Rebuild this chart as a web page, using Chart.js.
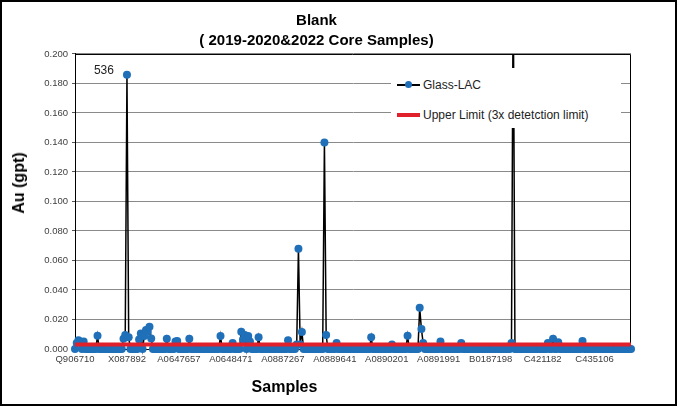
<!DOCTYPE html>
<html>
<head>
<meta charset="utf-8">
<title>Blank - Core Samples</title>
<script src="https://cdn.jsdelivr.net/npm/chart.js@4.4.1/dist/chart.umd.min.js"></script>
<style>
    html, body { margin: 0; padding: 0; background: #fff; }
    #wrap {
        position: relative; width: 677px; height: 406px;
        border: 2px solid #000; box-sizing: border-box; background: #fff;
        font-family: "Liberation Sans", Arial, sans-serif;
    }
    #chart { position: absolute; left: 0; top: 0; }
    .axis-title { position: absolute; font-weight: bold; font-size: 16px; color: #000; white-space: nowrap; }
    #yTitle { left: 16.5px; top: 181px; transform: translate(-50%, -50%) rotate(-90deg); }
    #xTitle { left: 282.5px; top: 385px; transform: translate(-50%, -50%); }
    #legendBox {
        position: absolute; left: 389px; top: 66px; width: 230px; height: 60px;
        background: #fff; font-size: 12px; color: #222;
    }
    .legend-row { position: absolute; left: 6px; height: 16px; display: flex; align-items: center; }
    .legend-key { position: relative; width: 23px; height: 16px; margin-right: 3px; }
    .key-line { position: absolute; left: 0; right: 0; top: 7px; height: 1.5px; background: #000; }
    .key-dot { position: absolute; left: 8px; top: 4px; width: 7px; height: 7px; border-radius: 50%; background: #1f70b8; }
    .key-bar { position: absolute; left: 0; right: 0; top: 6px; height: 4px; background: #e0202a; }
</style>
</head>
<body>
<div id="wrap">
    <canvas id="chart" width="673" height="402"></canvas>
    <div id="yTitle" class="axis-title">Au (gpt)</div>
    <div id="xTitle" class="axis-title">Samples</div>
    <div id="legendBox">
        <div class="legend-row" style="top: 9px;">
            <span class="legend-key"><span class="key-line"></span><span class="key-dot"></span></span>
            <span>Glass-LAC</span>
        </div>
        <div class="legend-row" style="top: 39px;">
            <span class="legend-key"><span class="key-bar"></span></span>
            <span>Upper Limit (3x detetction limit)</span>
        </div>
    </div>
</div>

<script>
// Sample IDs printed on the axis, one every labelStep samples
const sampleTicks = ['Q906710', 'X087892', 'A0647657', 'A0648471', 'A0887267', 'A0889641',
                     'A0890201', 'A0891991', 'B0187198', 'C421182', 'C435106'];
const labelStep = 30;

// Au (gpt) of the blank, one value per sample, 30 samples per row
// (the sample after B0187198 runs off the top of the scale)
const auValues = [
    0, 0.004, 0.006, 0.005, 0, 0.005, 0, 0, 0, 0, 0, 0, 0, 0.009, 0, 0, 0, 0, 0, 0, 0, 0, 0, 0, 0, 0, 0, 0, 0.007, 0.0095,
    0.186, 0.008, 0, 0, 0, 0, 0, 0.0065, 0.0105, 0, 0.0088, 0.0128, 0.0117, 0.0151, 0.0072, 0, 0, 0, 0, 0, 0, 0, 0, 0.007, 0, 0, 0, 0, 0.005, 0.0055,
    0, 0, 0, 0, 0, 0, 0.007, 0, 0, 0, 0, 0, 0, 0, 0, 0, 0, 0, 0, 0, 0, 0, 0, 0, 0.0088, 0, 0, 0, 0, 0,
    0, 0.004, 0, 0, 0, 0, 0.0117, 0.0065, 0.0095, 0, 0.0088, 0.005, 0, 0, 0, 0, 0.008, 0, 0, 0, 0, 0, 0, 0, 0, 0, 0, 0, 0, 0,
    0, 0, 0, 0.006, 0, 0, 0, 0, 0.003, 0.068, 0.003, 0.0115, 0, 0, 0, 0, 0, 0, 0, 0, 0, 0, 0, 0, 0.140, 0.0095, 0, 0, 0, 0,
    0, 0.004, 0, 0, 0, 0, 0, 0, 0, 0, 0, 0, 0, 0, 0, 0, 0, 0, 0, 0, 0, 0.008, 0, 0, 0, 0, 0, 0, 0, 0,
    0, 0, 0, 0.003, 0, 0, 0, 0, 0, 0, 0, 0, 0.009, 0, 0, 0, 0, 0, 0, 0.028, 0.0135, 0.004, 0, 0, 0, 0, 0, 0, 0, 0,
    0, 0.005, 0, 0, 0, 0, 0, 0, 0, 0, 0, 0, 0, 0.004, 0, 0, 0, 0, 0, 0, 0, 0, 0, 0, 0, 0, 0, 0, 0, 0,
    0, 0, 0, 0, 0, 0, 0, 0, 0, 0, 0, 0, 0.004, 0.25, 0, 0, 0, 0, 0, 0, 0, 0, 0, 0, 0, 0, 0, 0, 0, 0,
    0, 0, 0, 0.004, 0, 0, 0.007, 0, 0, 0.0045, 0, 0, 0, 0, 0, 0, 0, 0, 0, 0, 0, 0, 0, 0.0055, 0, 0, 0, 0, 0, 0,
    0, 0, 0, 0, 0, 0, 0, 0, 0, 0, 0, 0, 0, 0, 0, 0, 0, 0, 0, 0, 0, 0
];

const upperLimit = 0.003;   // 3x detection limit
const pointNotes = [{ index: 30, text: '536' }];

// category names: only the printed ones are known
const categories = auValues.map((v, i) => (i % labelStep === 0 ? sampleTicks[i / labelStep] || '' : ''));

const FONT = "'Liberation Sans', Arial, sans-serif";

// black frame on the top and right of the plot area
const plotFrame = {
    id: 'plotFrame',
    beforeDatasetsDraw(chart) {
        const a = chart.chartArea, ctx = chart.ctx;
        ctx.save();
        ctx.strokeStyle = '#000';
        ctx.lineWidth = 1;
        ctx.beginPath();
        ctx.moveTo(a.left, a.top + 0.5);
        ctx.lineTo(a.right - 0.5, a.top + 0.5);
        ctx.lineTo(a.right - 0.5, a.bottom);
        ctx.stroke();
        ctx.restore();
    }
};

// text notes placed beside a data point
const noteLabels = {
    id: 'noteLabels',
    afterDatasetsDraw(chart) {
        const meta = chart.getDatasetMeta(1);
        const ctx = chart.ctx;
        ctx.save();
        ctx.font = '12px ' + FONT;
        ctx.fillStyle = '#222';
        ctx.textAlign = 'right';
        ctx.textBaseline = 'middle';
        pointNotes.forEach(n => {
            const p = meta.data[n.index];
            if (p) ctx.fillText(n.text, p.x - 13, p.y - 4);
        });
        ctx.restore();
    }
};

new Chart(document.getElementById('chart'), {
    type: 'line',
    data: {
        labels: categories,
        datasets: [
            {
                label: 'Upper Limit (3x detetction limit)',
                data: categories.map(() => upperLimit),
                borderColor: '#e0202a',
                borderWidth: 4,
                pointRadius: 0,
                order: 0
            },
            {
                label: 'Glass-LAC',
                data: auValues,
                borderColor: '#000',
                borderWidth: 1.5,
                pointRadius: 4,
                pointBorderWidth: 0,
                pointBackgroundColor: '#1f70b8',
                pointBorderColor: '#1f70b8',
                tension: 0,
                clip: { left: 6, top: 0, right: 6, bottom: 6 },
                order: 1
            }
        ]
    },
    options: {
        responsive: false,
        devicePixelRatio: 1,
        animation: false,
        events: [],
        layout: { padding: { left: 0, right: 44, top: 0, bottom: 0 } },
        plugins: {
            legend: { display: false },
            tooltip: { enabled: false },
            title: {
                display: true,
                text: ['Blank', '( 2019-2020&2022 Core Samples)'],
                color: '#000',
                font: { family: FONT, size: 15, weight: 'bold', lineHeight: 1.333 },
                padding: { top: 9, bottom: 3 }
            }
        },
        scales: {
            x: {
                type: 'category',
                grid: { display: false, drawTicks: false },
                border: { display: true, color: '#000', width: 1 },
                ticks: {
                    autoSkip: false,
                    maxRotation: 0,
                    minRotation: 0,
                    padding: 5,
                    color: '#404040',
                    font: { family: FONT, size: 9.5 }
                },
                afterFit(scale) { scale.height = 55; }
            },
            y: {
                min: 0,
                max: 0.2,
                grid: { color: '#8a8a8a', lineWidth: 1, drawTicks: true, tickLength: 3, tickColor: '#555' },
                border: { display: true, color: '#000', width: 1 },
                ticks: {
                    stepSize: 0.02,
                    padding: 4,
                    color: '#404040',
                    font: { family: FONT, size: 9.5 },
                    callback: v => v.toFixed(3)
                },
                afterFit(scale) { scale.width = 73; }
            }
        }
    },
    plugins: [plotFrame, noteLabels]
});
</script>
</body>
</html>
